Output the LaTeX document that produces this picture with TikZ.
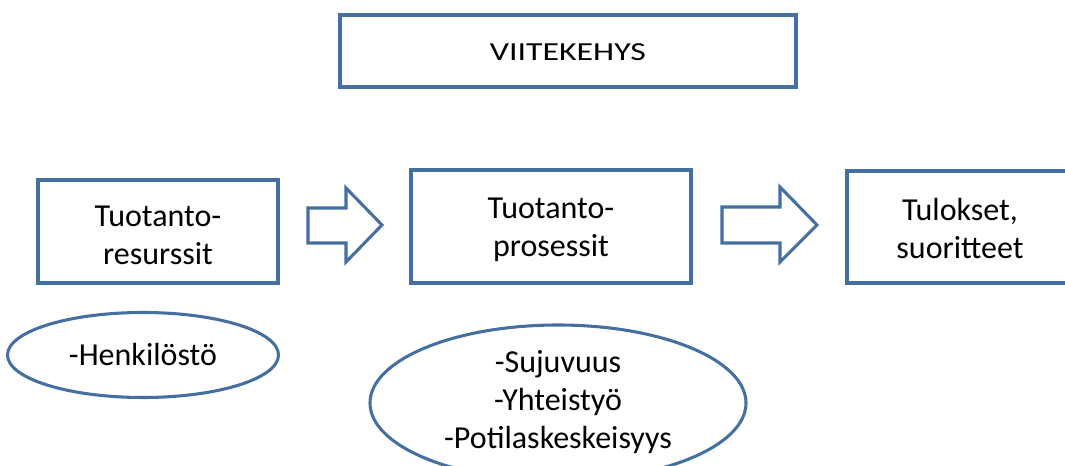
\documentclass[tikz,border=0pt]{standalone}
\usepackage{fontspec}
\setmainfont{Carlito}
\usetikzlibrary{shapes.geometric}
\definecolor{edgeblue}{RGB}{68,111,160}
\begin{document}
\begin{tikzpicture}[x=0.75pt,y=-0.75pt,
  box/.style={draw=edgeblue,line width=2.3pt,fill=white,inner sep=0pt},
  oval/.style={draw=edgeblue,line width=2.3pt,ellipse,inner sep=0pt},
  txt/.style={font=\fontsize{24pt}{28.5pt}\selectfont,align=center,text=black},
  fatarrow/.style={draw=edgeblue,line width=2.3pt,fill=white,line join=miter}]
\useasboundingbox (0,0) rectangle (1065,466);
\node[box,minimum width=456*0.75pt,minimum height=72*0.75pt] (frame) at (568,51) {};
\node[text=black,font=\fontsize{19.5pt}{24pt}\selectfont\addfontfeature{FakeStretch=1.3}] (frametxt) at (568,52) {VIITEKEHYS};
\node[box,minimum width=240*0.75pt,minimum height=103*0.75pt] (res) at (158,231.5) {};
\node[txt] (restxt) at ([yshift=-4*0.75pt]res.center) {Tuotanto-\\resurssit};
\node[box,minimum width=280*0.75pt,minimum height=113*0.75pt] (proc) at (551,226.5) {};
\node[txt] (proctxt) at ([yshift=-3*0.75pt]proc.center) {Tuotanto-\\prosessit};
\node[box,minimum width=226*0.75pt,minimum height=112*0.75pt] (out) at (960,227) {};
\node[txt] (outtxt) at ([yshift=-2*0.75pt]out.center) {Tulokset,\\suoritteet};
\node[oval,minimum width=271*0.75pt,minimum height=85*0.75pt] (hen) at (143,355) {};
\node[txt] (hentxt) at (hen) {-Henkilöstö};
\node[oval,minimum width=376*0.75pt,minimum height=156*0.75pt] (suj) at (558,403) {};
\node[txt] (sujtxt) at (558,402) {-Sujuvuus\\-Yhteistyö\\-Potilaskeskeisyys};
\draw[fatarrow] (308,208) -- (346,208) -- (346,188) -- (382,225) -- (346,262) -- (346,243) -- (308,243) -- cycle;
\draw[fatarrow] (722,207) -- (780,207) -- (780,187) -- (817,225) -- (780,262) -- (780,243) -- (722,243) -- cycle;
\end{tikzpicture}
\end{document}
